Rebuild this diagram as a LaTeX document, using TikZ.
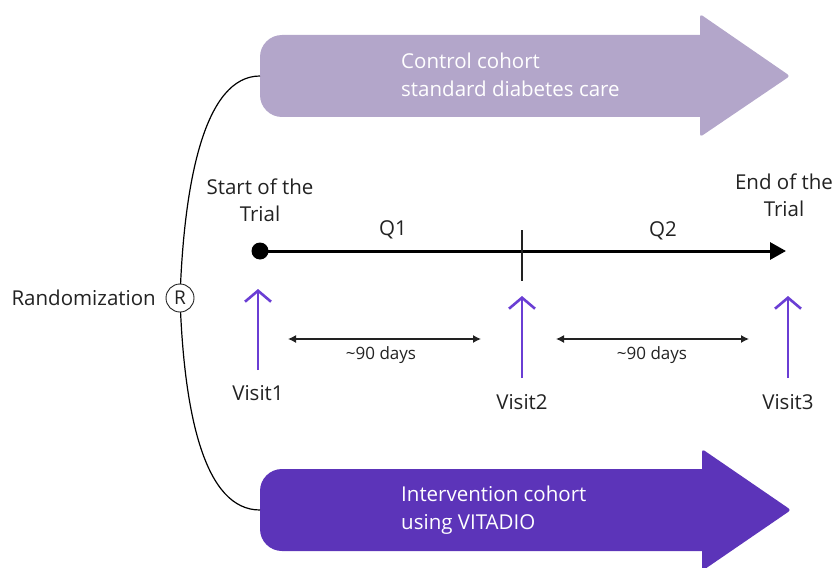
\documentclass[tikz,border=0pt]{standalone}
\usepackage{fontspec}
\setmainfont{Open Sans}
\usetikzlibrary{arrows.meta}
\definecolor{txt}{HTML}{222222}
\definecolor{ctrl}{HTML}{B3A6CA}
\definecolor{interv}{HTML}{5C34B9}
\definecolor{vis}{HTML}{6A3ED4}
\tikzset{
  lbl/.style={font=\fontsize{20.5}{27}\selectfont, text=txt, inner sep=0pt, align=center},
  smalllbl/.style={font=\fontsize{17}{20}\selectfont, text=txt, inner sep=0pt},
  boxtxt/.style={font=\fontsize{20.5}{28}\selectfont, text=white, align=left, anchor=west, inner sep=0pt},
  visit/.style={draw=vis, line width=2.6pt, -{Straight Barb[length=11pt,width=26pt]}},
  span/.style={draw=txt, line width=1.3pt, {Latex[length=8pt,width=8pt]}-{Latex[length=8pt,width=8pt]}},
  timeline/.style={draw=black, line width=3pt, -{Triangle[length=16pt,width=17pt]}},
}
\begin{document}
\begin{tikzpicture}[x=1pt,y=-1pt]
\useasboundingbox (0,0) rectangle (837,567);
% cohort arrows
\fill[ctrl, rounded corners=22pt] (260,35) rectangle (725,117);
\fill[ctrl, rounded corners=3pt] (700,14) -- (790,76) -- (700,137) -- cycle;
\coordinate (ctrlL) at (260,76);
\node[boxtxt] (ctrltxt) at (401,75) {Control cohort\\standard diabetes care};
\fill[interv, rounded corners=22pt] (260,469) rectangle (725,551);
\fill[interv, rounded corners=3pt] (702,449) -- (791,510) -- (702,571) -- cycle;
\coordinate (intL) at (260,510);
\node[boxtxt] (inttxt) at (401,510) {Intervention cohort\\using VITADIO};
% randomization curve
\coordinate (Rc) at (180,298);
\draw[line width=1.2pt, black] (ctrlL) .. controls (205,76) and (184,180) .. (Rc)
  .. controls (184,416) and (205,510) .. (intL);
\node[circle, draw=txt, line width=0.9pt, fill=white, minimum size=28pt, inner sep=0pt,
  font=\fontsize{19}{19}\selectfont, text=txt] (R) at (Rc) {R};
\node[lbl, anchor=east] (rand) at (156,298) {Randomization};
% timeline
\node[circle, fill=black, minimum size=17pt, inner sep=0pt] (start) at (260,251) {};
\coordinate (end) at (786,251);
\draw[timeline] (start.center) -- (end);
\coordinate (tickT) at (522,230);
\coordinate (tickB) at (522,281);
\draw[line width=2pt, txt] (tickT) -- (tickB);
\node[lbl] (q1) at (393,230) {Q1};
\node[lbl] (q2) at (663,231) {Q2};
\node[lbl] (startlbl) at (260,200) {Start of the\\Trial};
\node[lbl] (endlbl) at (784,195) {End of the\\Trial};
% visits
\coordinate (v1b) at (258,370); \coordinate (v1t) at (258,289);
\coordinate (v2b) at (522,378); \coordinate (v2t) at (522,296);
\coordinate (v3b) at (788,378); \coordinate (v3t) at (788,296);
\draw[visit] (v1b) -- (v1t);
\draw[visit] (v2b) -- (v2t);
\draw[visit] (v3b) -- (v3t);
\node[lbl] (visit1) at (258,393) {Visit1};
\node[lbl] (visit2) at (522,402) {Visit2};
\node[lbl] (visit3) at (788,402) {Visit3};
% spans
\coordinate (d1a) at (288,339); \coordinate (d1b) at (481,339);
\coordinate (d2a) at (556,339); \coordinate (d2b) at (749,339);
\draw[span] (d1a) -- (d1b);
\draw[span] (d2a) -- (d2b);
\node[smalllbl] (days1) at (381,355) {\textasciitilde90 days};
\node[smalllbl] (days2) at (652,355) {\textasciitilde90 days};
\end{tikzpicture}
\end{document}
